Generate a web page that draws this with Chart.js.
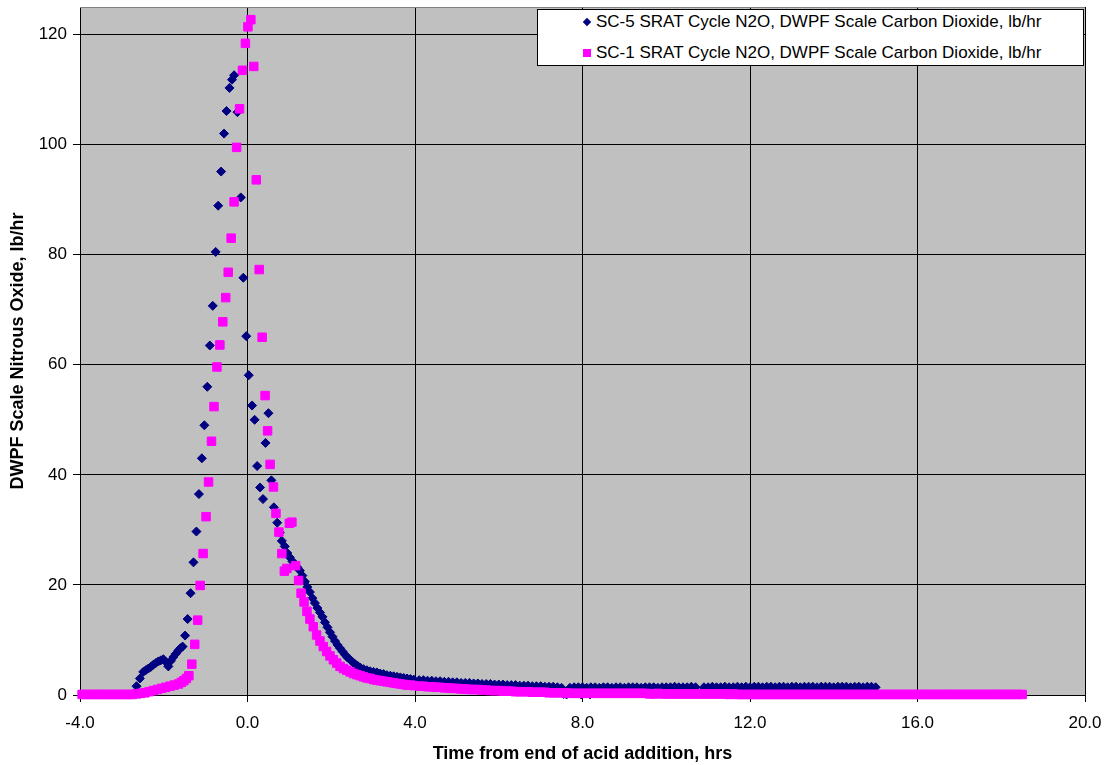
<!DOCTYPE html>
<html>
<head>
<meta charset="utf-8">
<script src="https://cdn.jsdelivr.net/npm/chart.js@4.4.1/dist/chart.umd.min.js"></script>
<style>
  html, body { margin: 0; padding: 0; background: #fff; }
  #wrap { position: relative; width: 1107px; height: 765px; }
  #legend {
    position: absolute; left: 537px; top: 9px; width: 547px; height: 57px;
    box-sizing: border-box; border: 1px solid #000; background: #fff;
    font: 17px "Liberation Sans", Arial, sans-serif; color: #000;
  }
  .item { position: absolute; left: 58px; white-space: nowrap; line-height: 20px; }
  .mark { position: absolute; }
  .diamond { width: 6px; height: 6px; background: #000080; transform: rotate(45deg); }
  .square { width: 8px; height: 8px; background: #ff00ff; }
</style>
</head>
<body>
<div id="wrap">
  <canvas id="chart" width="1107" height="765"></canvas>
  <div id="legend"></div>
</div>
<script>
// SC-5 run: hours from end of acid addition, N2O lb/hr
const sc5Hours = [
  -2.65, -2.57, -2.49, -2.43, -2.37, -2.31, -2.25, -2.19, -2.13, -2.07,
  -2.01, -1.95, -1.89, -1.83, -1.77, -1.71, -1.65, -1.60, -1.55, -1.49,
  -1.43, -1.36, -1.29, -1.22, -1.16, -1.09, -1.03, -0.96, -0.90, -0.83,
  -0.76, -0.70, -0.63, -0.56, -0.50, -0.43, -0.37, -0.32, -0.24, -0.16,
  -0.10, -0.03, 0.03, 0.11, 0.17, 0.23, 0.30, 0.37, 0.43, 0.50,
  0.57, 0.63, 0.71, 0.77, 0.82, 0.89, 0.95, 1.01, 1.07, 1.13,
  1.19, 1.25, 1.31, 1.37, 1.43, 1.49, 1.55, 1.61, 1.67, 1.73,
  1.79, 1.85, 1.91, 1.97, 2.03, 2.09, 2.15, 2.21, 2.27, 2.33,
  2.39, 2.45, 2.51, 2.57, 2.63, 2.69, 2.77, 2.85, 2.93, 3.01,
  3.09, 3.17, 3.25, 3.33, 3.41, 3.49, 3.57, 3.65, 3.73, 3.81,
  3.89, 3.97,
  4.1, 4.2, 4.3, 4.4, 4.5, 4.6, 4.7, 4.8, 4.9, 5.0,
  5.1, 5.2, 5.3, 5.4, 5.5, 5.6, 5.7, 5.8, 5.9, 6.0,
  6.1, 6.2, 6.3, 6.4, 6.5, 6.6, 6.7, 6.8, 6.9, 7.0,
  7.1, 7.2, 7.3, 7.4, 7.5, 7.55, 7.62, 7.7, 7.8, 7.9,
  7.97, 8.0, 8.1, 8.18, 8.2, 8.3, 8.4, 8.5, 8.6, 8.7,
  8.8, 8.9, 9.0, 9.1, 9.2, 9.3, 9.4, 9.5, 9.6, 9.7,
  9.8, 9.9, 10.0, 10.1, 10.2, 10.3, 10.4, 10.5, 10.6, 10.7,
  10.9, 11.0, 11.1, 11.2, 11.3, 11.4, 11.5, 11.6, 11.7, 11.8,
  11.9, 12.0, 12.1, 12.2, 12.3, 12.4, 12.5, 12.6, 12.7, 12.8,
  12.9, 13.0, 13.1, 13.2, 13.3, 13.4, 13.5, 13.6, 13.7, 13.8,
  13.9, 14.0, 14.1, 14.2, 14.3, 14.4, 14.5, 14.6, 14.7, 14.8,
  14.9, 15.0
];
const sc5N2O = [
  1.6, 3.0, 4.2, 4.5, 4.8, 5.1, 5.5, 5.8, 6.1, 6.3,
  6.5, 6.0, 5.2, 6.2, 6.9, 7.5, 8.1, 8.5, 8.8, 10.8,
  13.8, 18.5, 24.1, 29.7, 36.5, 43.0, 49.0, 56.0, 63.5, 70.7,
  80.5, 88.9, 95.1, 102.0, 106.1, 110.3, 111.8, 112.6, 105.9, 90.4,
  75.8, 65.2, 58.1, 52.6, 50.0, 41.6, 37.7, 35.6, 45.8, 51.2,
  39.0, 34.1, 31.3, 29.5, 28.0, 27.0, 25.8, 25.0, 24.3, 23.8,
  23.2, 22.6, 21.7, 20.6, 19.6, 18.7, 17.6, 16.7, 15.8, 15.0,
  14.2, 13.2, 12.3, 11.4, 10.6, 9.8, 9.1, 8.5, 7.9, 7.3,
  6.8, 6.4, 6.0, 5.6, 5.3, 5.0, 4.7, 4.5, 4.3, 4.2,
  4.1, 3.9, 3.8, 3.6, 3.5, 3.4, 3.3, 3.2, 3.1, 3.0,
  2.9, 2.8,
  2.7, 2.7, 2.6, 2.6, 2.5, 2.5, 2.4, 2.4, 2.3, 2.3,
  2.2, 2.2, 2.2, 2.1, 2.1, 2.0, 2.0, 2.0, 1.9, 1.9,
  1.9, 1.8, 1.8, 1.8, 1.7, 1.7, 1.7, 1.6, 1.6, 1.6,
  1.5, 1.5, 1.5, 1.4, 1.3, 0.2, 0.1, 1.3, 1.4, 1.4,
  0.1, 1.4, 1.3, 0.1, 1.4, 1.4, 1.3, 1.4, 1.4, 1.3,
  1.4, 1.4, 1.3, 1.4, 1.4, 1.4, 1.3, 1.4, 1.4, 1.4,
  1.3, 1.4, 1.4, 1.4, 1.5, 1.4, 1.4, 1.4, 1.5, 1.4,
  1.4, 1.4, 1.5, 1.4, 1.4, 1.5, 1.4, 1.4, 1.5, 1.4,
  1.5, 1.4, 1.5, 1.5, 1.4, 1.5, 1.5, 1.4, 1.5, 1.5,
  1.4, 1.5, 1.5, 1.4, 1.5, 1.5, 1.5, 1.4, 1.5, 1.5,
  1.5, 1.4, 1.5, 1.5, 1.5, 1.4, 1.5, 1.5, 1.4, 1.5,
  1.5, 1.4
];

// SC-1 run
const sc1Hours = [
  -3.95, -3.85, -3.75, -3.65, -3.55, -3.45, -3.35, -3.25, -3.15, -3.05,
  -2.95, -2.85, -2.75, -2.65, -2.55, -2.45, -2.35, -2.25, -2.15, -2.05,
  -1.95, -1.85, -1.75, -1.65, -1.58, -1.52, -1.46, -1.40, -1.33, -1.26,
  -1.19, -1.13, -1.06, -0.99, -0.93, -0.86, -0.80, -0.73, -0.66, -0.59,
  -0.52, -0.46, -0.39, -0.32, -0.26, -0.19, -0.12, -0.05, 0.01, 0.08,
  0.15, 0.21, 0.28, 0.35, 0.42, 0.48, 0.54, 0.62, 0.68, 0.75,
  0.82, 0.88, 0.94, 1.00, 1.06, 1.15, 1.22, 1.28, 1.35, 1.42,
  1.49, 1.57, 1.65, 1.73, 1.81, 1.89, 1.97, 2.05, 2.13, 2.21,
  2.29, 2.37, 2.45, 2.53, 2.61, 2.69, 2.77, 2.85, 2.93, 3.01,
  3.09, 3.17, 3.25, 3.33, 3.41, 3.49, 3.57, 3.65, 3.73, 3.81,
  3.89, 3.97,
  4.1, 4.2, 4.3, 4.4, 4.5, 4.6, 4.7, 4.8, 4.9, 5.0,
  5.1, 5.2, 5.3, 5.4, 5.5, 5.6, 5.7, 5.8, 5.9, 6.0,
  6.1, 6.2, 6.3, 6.4, 6.5, 6.6, 6.7, 6.8, 6.9, 7.0,
  7.1, 7.2, 7.3, 7.4, 7.5, 7.6, 7.7, 7.8, 7.9, 8.0,
  8.1, 8.2, 8.3, 8.4, 8.5, 8.6, 8.7, 8.8, 8.9, 9.0,
  9.1, 9.2, 9.3, 9.4, 9.5, 9.6, 9.7, 9.8, 9.9, 10.0,
  10.1, 10.2, 10.3, 10.4, 10.5, 10.6, 10.7, 10.8, 10.9, 11.0,
  11.1, 11.2, 11.3, 11.4, 11.5, 11.6, 11.7, 11.8, 11.9, 12.0,
  12.1, 12.2, 12.3, 12.4, 12.5, 12.6, 12.7, 12.8, 12.9, 13.0,
  13.1, 13.2, 13.3, 13.4, 13.5, 13.6, 13.7, 13.8, 13.9, 14.0,
  14.1, 14.2, 14.3, 14.4, 14.5, 14.6, 14.7, 14.8, 14.9, 15.0,
  15.1, 15.2, 15.3, 15.4, 15.5, 15.6, 15.7, 15.8, 15.9, 16.0,
  16.1, 16.2, 16.3, 16.4, 16.5, 16.6, 16.7, 16.8, 16.9, 17.0,
  17.1, 17.2, 17.3, 17.4, 17.5, 17.6, 17.7, 17.8, 17.9, 18.0,
  18.1, 18.2, 18.3, 18.4, 18.5
];
const sc1N2O = [
  0.1, 0.1, 0.1, 0.1, 0.1, 0.1, 0.1, 0.1, 0.1, 0.1,
  0.1, 0.1, 0.1, 0.2, 0.3, 0.4, 0.6, 0.8, 1.0, 1.2,
  1.4, 1.6, 1.8, 2.0, 2.3, 2.6, 3.0, 3.5, 5.6, 9.2,
  13.6, 19.9, 25.7, 32.4, 38.7, 46.1, 52.4, 59.6, 63.6, 67.8,
  72.2, 76.8, 83.0, 89.6, 99.5, 106.5, 113.5, 118.4, 121.4, 122.7,
  114.2, 93.6, 77.3, 65.0, 54.4, 48.0, 41.9, 37.8, 33.0, 29.6,
  25.7, 22.5, 23.0, 31.2, 31.4, 23.5, 20.8, 18.5, 16.9, 15.2,
  13.8, 12.4, 10.9, 9.8, 8.8, 7.9, 7.1, 6.4, 5.8, 5.2,
  4.8, 4.5, 4.2, 3.9, 3.7, 3.5, 3.3, 3.1, 3.0, 2.8,
  2.7, 2.6, 2.5, 2.4, 2.3, 2.2, 2.1, 2.0, 1.9, 1.8,
  1.8, 1.7,
  1.6, 1.6, 1.5, 1.5, 1.4, 1.4, 1.3, 1.3, 1.2, 1.2,
  1.1, 1.1, 1.0, 1.0, 1.0, 0.9, 0.9, 0.8, 0.8, 0.8,
  0.7, 0.7, 0.7, 0.6, 0.6, 0.6, 0.6, 0.5, 0.5, 0.5,
  0.5, 0.4, 0.4, 0.4, 0.4, 0.4, 0.3, 0.3, 0.3, 0.3,
  0.3, 0.3, 0.3, 0.3, 0.3, 0.3, 0.3, 0.3, 0.3, 0.3,
  0.3, 0.3, 0.3, 0.3, 0.3, 0.2, 0.2, 0.3, 0.2, 0.2,
  0.2, 0.2, 0.2, 0.2, 0.2, 0.2, 0.2, 0.2, 0.2, 0.2,
  0.2, 0.2, 0.2, 0.2, 0.1, 0.2, 0.1, 0.1, 0.1, 0.1,
  0.1, 0.1, 0.1, 0.1, 0.1, 0.1, 0.1, 0.1, 0.1, 0.1,
  0.1, 0.1, 0.1, 0.1, 0.1, 0.1, 0.1, 0.1, 0.1, 0.1,
  0.1, 0.1, 0.1, 0.1, 0.1, 0.1, 0.1, 0.1, 0.1, 0.1,
  0.1, 0.1, 0.1, 0.1, 0.1, 0.1, 0.1, 0.1, 0.1, 0.1,
  0.1, 0.1, 0.1, 0.1, 0.1, 0.1, 0.1, 0.1, 0.1, 0.1,
  0.1, 0.1, 0.1, 0.1, 0.1, 0.1, 0.1, 0.1, 0.1, 0.1,
  0.1, 0.1, 0.1, 0.1, 0.1
];

const xTicks = [-4, 0, 4, 8, 12, 16, 20];
const yTicks = [0, 20, 40, 60, 80, 100, 120];
const seriesNames = [
  'SC-5 SRAT Cycle N2O, DWPF Scale Carbon Dioxide, lb/hr',
  'SC-1 SRAT Cycle N2O, DWPF Scale Carbon Dioxide, lb/hr'
];

const FONT = '"Liberation Sans", Arial, sans-serif';
Chart.defaults.font.family = FONT;
Chart.defaults.color = '#000';

// legend box (drawn in html so it can sit inside the plot)
const legend = document.getElementById('legend');
legend.innerHTML = `
  <span class="mark diamond" style="left:46px;top:9px"></span>
  <div class="item" style="top:2px">${seriesNames[0]}</div>
  <span class="mark square" style="left:45px;top:39px"></span>
  <div class="item" style="top:33px">${seriesNames[1]}</div>
`;

const plotArea = {
  id: 'plotArea',
  beforeDraw(chart) {
    const { ctx, chartArea: a } = chart;
    ctx.save();
    ctx.fillStyle = '#c0c0c0';
    ctx.fillRect(a.left, a.top, a.right - a.left, a.bottom - a.top);
    ctx.restore();
  },
  beforeDatasetsDraw(chart) {
    const { ctx, chartArea: a } = chart;
    ctx.save();
    ctx.strokeStyle = '#808080';
    ctx.lineWidth = 1;
    ctx.beginPath();
    ctx.moveTo(a.left, a.top + 0.5);
    ctx.lineTo(a.right, a.top + 0.5);
    ctx.stroke();
    ctx.restore();
  }
};

const toPoints = (xs, ys) => xs.map((x, i) => ({ x: x, y: ys[i] }));

new Chart(document.getElementById('chart'), {
  type: 'scatter',
  data: {
    datasets: [
      {
        label: seriesNames[0],
        data: toPoints(sc5Hours, sc5N2O),
        pointStyle: 'rectRot',
        pointRadius: 4.5,
        pointBorderWidth: 1,
        backgroundColor: '#000080',
        borderColor: '#000080',
        order: 1,
        clip: false
      },
      {
        label: seriesNames[1],
        data: toPoints(sc1Hours, sc1N2O),
        pointStyle: 'rect',
        pointRadius: 6,
        pointBorderWidth: 1,
        backgroundColor: '#ff00ff',
        borderColor: '#ff00ff',
        order: 0,
        clip: false
      }
    ]
  },
  options: {
    responsive: false,
    animation: false,
    events: [],
    layout: { padding: { top: 7, right: 22, left: 0, bottom: 0 } },
    plugins: { legend: { display: false }, tooltip: { enabled: false } },
    scales: {
      x: {
        type: 'linear',
        min: -4,
        max: 20,
        afterBuildTicks: s => { s.ticks = xTicks.map(v => ({ value: v })); },
        afterFit: s => { s.height = 70; s.paddingLeft = 0; s.paddingRight = 0; },
        ticks: {
          font: { size: 17 },
          padding: 11,
          maxRotation: 0,
          callback: v => v.toFixed(1)
        },
        grid: { color: '#000', lineWidth: 1, tickLength: 7 },
        border: { color: '#000', width: 1 },
        title: {
          display: true,
          text: 'Time from end of acid addition, hrs',
          font: { size: 18, weight: 'bold' },
          padding: { top: 0, bottom: 0 }
        }
      },
      y: {
        type: 'linear',
        min: 0,
        max: 125,
        afterBuildTicks: s => { s.ticks = yTicks.map(v => ({ value: v })); },
        afterFit: s => { s.width = 80; s.paddingTop = 0; s.paddingBottom = 0; },
        ticks: {
          font: { size: 17 },
          padding: 6,
          callback: v => String(v)
        },
        grid: { color: '#000', lineWidth: 1, tickLength: 7 },
        border: { color: '#000', width: 1 },
        title: {
          display: true,
          text: 'DWPF Scale Nitrous Oxide, lb/hr',
          font: { size: 18, weight: 'bold' },
          padding: { top: 7, bottom: 0 }
        }
      }
    }
  },
  plugins: [plotArea]
});
</script>
</body>
</html>
